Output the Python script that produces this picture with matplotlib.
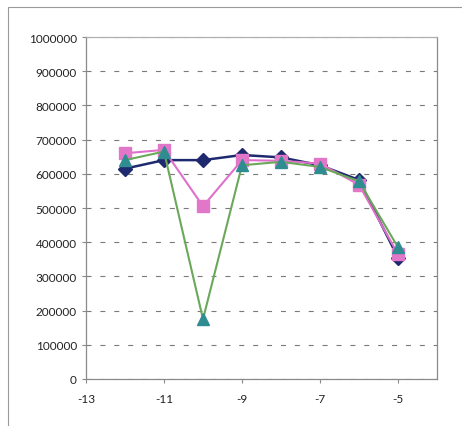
import numpy as np
import matplotlib.pyplot as plt
from matplotlib.patches import Rectangle

plt.rcParams['font.family'] = ['Lato', 'DejaVu Sans']
plt.rcParams['axes.unicode_minus'] = False

x = [-12, -11, -10, -9, -8, -7, -6, -5]
blue = [615000, 640000, 640000, 655000, 648000, 625000, 582000, 355000]
pink = [660000, 670000, 505000, 640000, 638000, 630000, 568000, 365000]
green = [640000, 665000, 175000, 625000, 635000, 620000, 578000, 385000]

fig = plt.figure(figsize=(4.62, 4.27), dpi=100)
fig.patch.set_facecolor('white')
# outer frame of the chart area
fig.patches.append(Rectangle((8/462, -0.1), 1.2, 1 - 8/427 + 0.1, transform=fig.transFigure,
                             fill=False, edgecolor='#9a9a9a', linewidth=0.8))

ax = fig.add_axes([86/462, 47/427, 351/462, 342/427])

ax.plot(x, blue, color='#1f2a6e', lw=1.8, marker='D', ms=7, mfc='#1f2a6e', mec='#1f2a6e', zorder=3)
ax.plot(x, pink, color='#e06fcb', lw=1.5, marker='s', ms=9, mfc='#e276c9', mec='#e276c9', zorder=4)
ax.plot(x, green, color='#6aa85a', lw=1.5, marker='^', ms=9, mfc='#2f8d92', mec='#2f8d92', zorder=5)

ax.set_xlim(-13, -4)
ax.set_ylim(0, 1000000)
ax.set_xticks([-13, -11, -9, -7, -5])
ax.set_yticks(np.arange(0, 1000001, 100000))
ax.set_yticklabels([str(v) for v in range(0, 1000001, 100000)])
ax.yaxis.grid(True, linestyle=(0, (4.5, 8)), color='#7a7a7a', lw=0.8)
for s in ax.spines.values():
    s.set_color('#8a8a8a')
    s.set_linewidth(0.9)
ax.spines['top'].set_color('#b0b0b0')
ax.tick_params(axis='both', labelsize=8.5, colors='#8a8a8a', labelcolor='#222222', length=3)
ax.tick_params(axis='x', pad=7)

fig.savefig('out.png', dpi=100)
